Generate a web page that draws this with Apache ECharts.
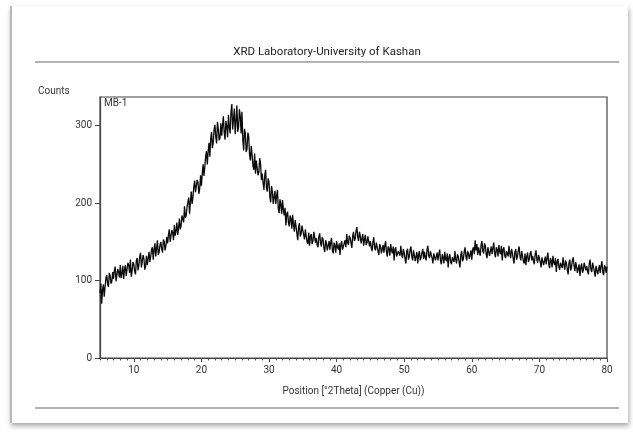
<!DOCTYPE html>
<html>
<head>
<meta charset="utf-8">
<script src="https://cdn.jsdelivr.net/npm/echarts@6/dist/echarts.min.js"></script>
<style>
  html, body { margin: 0; padding: 0; background: #fff; }
  #frame {
    position: absolute; left: 10px; top: 6px; width: 616px; height: 417px;
    background: #fff; border-left: 2px solid #b8b8b8;
    box-shadow: 1px 3px 5px rgba(0,0,0,0.35);
  }
  #main { position: absolute; left: 0; top: 0; width: 633px; height: 434px; }
</style>
</head>
<body>
<div id="frame"></div>
<div id="main"></div>
<script>
// scan: 5 .. 80 °2Theta, step 0.125 (one row of 8 = one degree)
const scanStart = 5;
const scanStep = 0.125;
const counts = [
  84, 96, 70, 88, 95, 79, 92, 103,
  107, 95, 92, 110, 106, 96, 99, 111,
  102, 113, 118, 99, 100, 115, 111, 104,
  120, 103, 109, 119, 102, 114, 120, 106,
  108, 123, 120, 110, 127, 105, 112, 124,
  121, 112, 108, 126, 129, 113, 120, 131,
  136, 117, 119, 133, 128, 114, 119, 132,
  120, 128, 137, 124, 131, 140, 143, 127,
  140, 148, 131, 142, 152, 133, 137, 146,
  150, 141, 136, 153, 150, 139, 145, 156,
  148, 159, 166, 150, 149, 165, 162, 152,
  172, 158, 164, 175, 159, 168, 180, 166,
  171, 184, 186, 175, 196, 181, 184, 195,
  197, 207, 186, 202, 215, 199, 208, 221,
  229, 214, 213, 230, 226, 212, 219, 236,
  222, 238, 250, 235, 246, 260, 267, 250,
  267, 278, 260, 283, 292, 271, 278, 295,
  301, 285, 277, 305, 296, 281, 284, 303,
  287, 300, 312, 291, 282, 306, 299, 285,
  314, 298, 290, 318, 328, 295, 296, 322,
  289, 306, 326, 292, 298, 321, 312, 290,
  318, 282, 268, 296, 290, 266, 270, 291,
  286, 262, 255, 274, 262, 248, 243, 264,
  238, 255, 257, 236, 240, 258, 251, 230,
  238, 226, 217, 236, 243, 220, 215, 232,
  227, 208, 201, 222, 215, 199, 201, 216,
  199, 209, 217, 193, 187, 205, 198, 186,
  204, 192, 184, 194, 171, 186, 189, 175,
  170, 184, 180, 167, 185, 172, 163, 178,
  170, 161, 152, 169, 174, 157, 160, 171,
  172, 159, 153, 166, 158, 150, 147, 162,
  145, 157, 160, 147, 151, 163, 161, 149,
  155, 146, 143, 157, 161, 148, 144, 156,
  153, 142, 137, 152, 148, 139, 140, 151,
  140, 149, 155, 139, 135, 149, 145, 136,
  151, 143, 140, 148, 133, 146, 151, 140,
  139, 148, 152, 143, 160, 149, 146, 158,
  155, 149, 142, 157, 163, 151, 154, 164,
  169, 156, 151, 163, 158, 148, 147, 160,
  145, 153, 159, 146, 149, 157, 158, 144,
  151, 143, 138, 150, 156, 142, 139, 149,
  149, 138, 133, 147, 144, 135, 136, 146,
  136, 145, 151, 137, 131, 144, 141, 132,
  147, 139, 135, 144, 126, 140, 143, 131,
  129, 138, 140, 132, 145, 134, 129, 141,
  136, 128, 122, 138, 141, 127, 131, 140,
  144, 131, 126, 139, 133, 125, 123, 137,
  122, 133, 138, 126, 130, 136, 141, 128,
  137, 130, 126, 140, 145, 132, 129, 138,
  139, 129, 122, 135, 134, 126, 125, 136,
  126, 134, 140, 125, 121, 134, 130, 122,
  137, 128, 125, 135, 117, 130, 134, 124,
  121, 130, 132, 124, 138, 127, 122, 134,
  131, 124, 117, 133, 138, 125, 128, 137,
  143, 131, 126, 138, 135, 128, 126, 139,
  127, 140, 143, 134, 152, 139, 147, 133,
  143, 137, 132, 146, 151, 138, 135, 148,
  145, 134, 129, 143, 141, 132, 133, 144,
  134, 142, 149, 135, 130, 143, 140, 131,
  146, 137, 134, 145, 126, 140, 143, 132,
  129, 138, 140, 131, 145, 135, 129, 141,
  136, 128, 122, 137, 141, 127, 131, 139,
  144, 131, 126, 138, 132, 125, 122, 135,
  120, 131, 136, 124, 127, 135, 138, 126,
  132, 125, 121, 134, 139, 127, 123, 133,
  133, 124, 117, 130, 129, 120, 120, 131,
  121, 129, 136, 122, 116, 129, 126, 117,
  132, 123, 120, 129, 111, 124, 128, 118,
  114, 123, 125, 116, 130, 120, 114, 126,
  122, 114, 108, 123, 127, 113, 117, 126,
  130, 119, 112, 124, 118, 110, 108, 121,
  106, 117, 122, 110, 114, 123, 125, 113,
  119, 112, 108, 122, 127, 114, 111, 123,
  121, 112, 105, 119, 117, 108, 109, 120,
  110, 119, 125, 111, 107, 120, 117, 110,
  118
];
const xTicks = [10, 20, 30, 40, 50, 60, 70, 80];
const yTicks = [0, 100, 200, 300];

const points = counts.map((c, i) => [scanStart + i * scanStep, c]);
const minorTicks = [];
for (let v = 5; v <= 80; v++) minorTicks.push(v);

const chart = echarts.init(document.getElementById('main'), null, { renderer: 'canvas' });
const txt = { fontFamily: 'Roboto', color: '#333' };

chart.setOption({
  animation: false,
  backgroundColor: 'transparent',
  grid: {
    left: 100, right: 26, top: 97, bottom: 76,
    show: true, borderColor: '#444', borderWidth: 1.2
  },
  xAxis: [
    {
      type: 'value', min: 5, max: 80, position: 'bottom',
      axisLine: { show: true, lineStyle: { color: '#444', width: 1.2 } },
      axisTick: { show: true, customValues: xTicks, length: 4, lineStyle: { color: '#444' } },
      axisLabel: { customValues: xTicks, fontSize: 10, margin: 7, ...txt },
      splitLine: { show: false },
      name: 'Position [°2Theta] (Copper (Cu))',
      nameLocation: 'middle', nameGap: 28,
      nameTextStyle: { fontSize: 10, ...txt }
    },
    {
      type: 'value', min: 5, max: 80, position: 'bottom',
      axisLine: { show: false },
      axisTick: { show: true, customValues: minorTicks, length: 2.5, lineStyle: { color: '#555' } },
      axisLabel: { show: false },
      splitLine: { show: false }
    }
  ],
  yAxis: {
    type: 'value', min: 0, max: 337,
    axisLine: { show: true, lineStyle: { color: '#444', width: 1.2 } },
    axisTick: { show: true, customValues: yTicks, length: 5, lineStyle: { color: '#444' } },
    axisLabel: { customValues: yTicks, fontSize: 10, margin: 8, ...txt },
    splitLine: { show: false }
  },
  graphic: [
    { type: 'line', shape: { x1: 35, y1: 62, x2: 619, y2: 62 }, style: { stroke: '#999', lineWidth: 1.5 } },
    { type: 'line', shape: { x1: 35, y1: 408, x2: 619, y2: 408 }, style: { stroke: '#999', lineWidth: 1.5 } },
    { type: 'text', x: 327, y: 58, style: { text: 'XRD Laboratory-University of Kashan', fontSize: 11.5, fontFamily: 'Roboto', fill: '#222', align: 'center', verticalAlign: 'bottom' } },
    { type: 'text', x: 38, y: 91, style: { text: 'Counts', fontSize: 10, fontFamily: 'Roboto', fill: '#333', align: 'left', verticalAlign: 'middle' } },
    { type: 'text', x: 104, y: 103, style: { text: 'MB-1', fontSize: 10, fontFamily: 'Roboto', fill: '#333', align: 'left', verticalAlign: 'middle' } }
  ],
  series: [{
    type: 'line',
    xAxisIndex: 0,
    data: points,
    showSymbol: false,
    symbol: 'none',
    sampling: null,
    lineStyle: { color: '#0a0a0a', width: 1.3 }
  }]
});
</script>
</body>
</html>
